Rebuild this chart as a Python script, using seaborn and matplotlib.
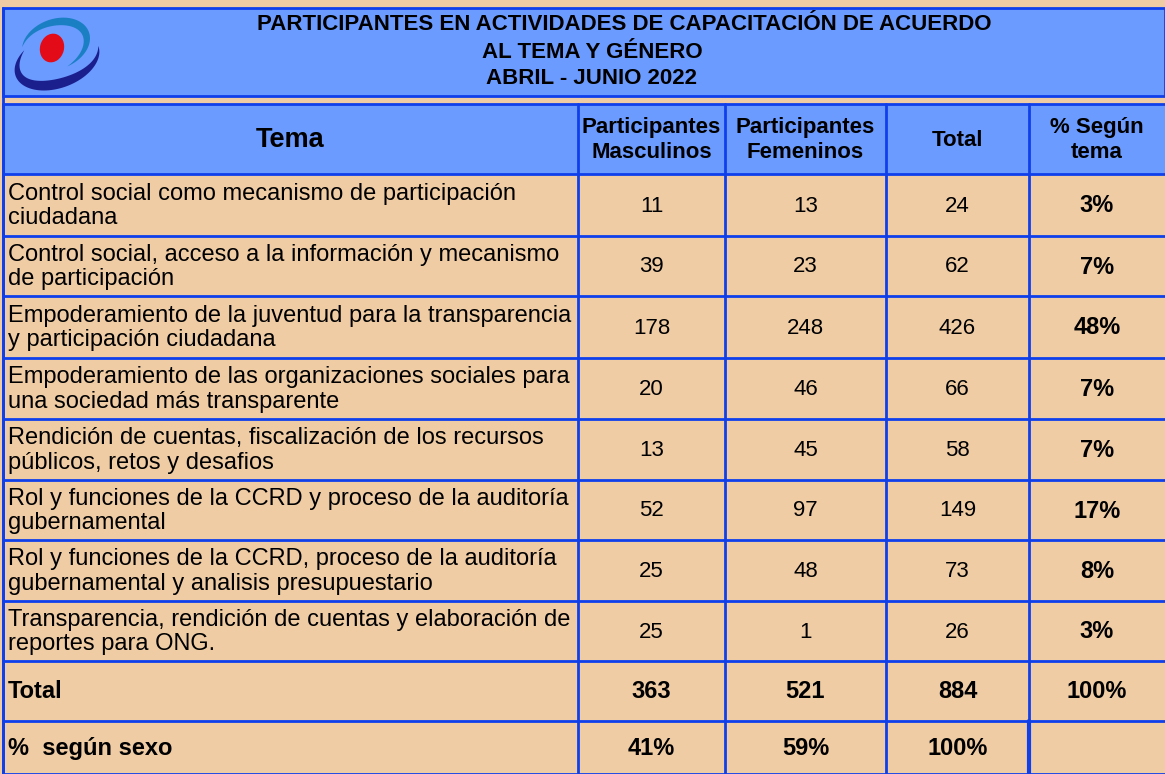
import numpy as np
import matplotlib.pyplot as plt
import seaborn as sns
from matplotlib.patches import Rectangle, Ellipse, Polygon

# ===== data
title_lines = [
    "PARTICIPANTES EN ACTIVIDADES DE CAPACITACIÓN DE ACUERDO",
    "AL TEMA Y GÉNERO",
    "ABRIL - JUNIO 2022",
]
headers = ["Tema", "Participantes\nMasculinos", "Participantes\nFemeninos", "Total", "% Según\ntema"]
temas = [
    "Control social como mecanismo de participación\nciudadana",
    "Control social, acceso a la información y mecanismo\nde participación",
    "Empoderamiento de la juventud para la transparencia\ny participación ciudadana",
    "Empoderamiento de las organizaciones sociales para\nuna sociedad más transparente",
    "Rendición de cuentas, fiscalización de los recursos\npúblicos, retos y desafios",
    "Rol y funciones de la CCRD y proceso de la auditoría\ngubernamental",
    "Rol y funciones de la CCRD, proceso de la auditoría\ngubernamental y analisis presupuestario",
    "Transparencia, rendición de cuentas y elaboración de\nreportes para ONG.",
]
masculinos = [11, 39, 178, 20, 13, 52, 25, 25]
femeninos = [13, 23, 248, 46, 45, 97, 48, 1]
totales = [24, 62, 426, 66, 58, 149, 73, 26]
pct_tema = ["3%", "7%", "48%", "7%", "7%", "17%", "8%", "3%"]
fila_total = ["Total", "363", "521", "884", "100%"]
fila_sexo = ["%  según sexo", "41%", "59%", "100%", ""]

# ===== style
sns.set_theme(style="white")
plt.rcParams["font.family"] = ["Liberation Sans", "DejaVu Sans"]
plt.rcParams["text.color"] = "black"

tan = "#EFCCA4"
blue = "#6B9BFF"
line = "#0F3FEA"

W, H = 1165, 774
cols = [3, 578, 725, 886, 1029, 1165]
rows = [104, 174, 236, 296, 358, 419, 480, 540, 601, 661, 721, 774]

fig = plt.figure(figsize=(W / 100, H / 100), dpi=100)
fig.set_facecolor(tan)
ax = fig.add_axes([0, 0, 1, 1])
ax.set_xlim(0, W)
ax.set_ylim(H, 0)
ax.axis("off")

# title box
ax.add_patch(Rectangle((3, 8), W - 3, 88, facecolor=blue, edgecolor=line, lw=2))
title_x = [624, 592, 592]
for i, s in enumerate(title_lines):
    ax.text(title_x[i], 25 + 27 * i, s, ha="center", va="center", fontsize=16, weight="bold")


# logo
def crescent(cx, cy, a, b, tilt, t0, t1, wmax, color):
    t = np.radians(np.linspace(t0, t1, 100))
    w = wmax * np.sin(np.linspace(0, np.pi, 100)) ** 0.9
    ox, oy = a * np.cos(t), b * np.sin(t)
    ix, iy = (a - w) * np.cos(t), (b - w) * np.sin(t)
    r = np.radians(tilt)
    xs = np.concatenate([ox, ix[::-1]])
    ys = np.concatenate([oy, iy[::-1]])
    px = cx + xs * np.cos(r) - ys * np.sin(r)
    py = cy + xs * np.sin(r) + ys * np.cos(r)
    ax.add_patch(Polygon(np.column_stack([px, py]), closed=True, facecolor=color, edgecolor="none"))


crescent(56, 44, 35, 25, -20, 200, 445, 8, "#1B7FC4")
crescent(57, 61, 44, 27, -20, 232, 0, 10, "#1B1F8E")
ax.add_patch(Ellipse((52, 48), 24, 29, angle=15, facecolor="#E30B17", edgecolor="none"))

# header row
ax.add_patch(Rectangle((cols[0], rows[0]), W - cols[0], rows[1] - rows[0], facecolor=blue, edgecolor="none"))
for j, h in enumerate(headers):
    xc = (cols[j] + cols[j + 1]) / 2
    yc = (rows[0] + rows[1]) / 2
    size = 19.5 if j == 0 else 16
    ax.text(xc, yc + 1, h, ha="center", va="center", fontsize=size, weight="bold", linespacing=1.2)

# body rows
body = [[t, str(m), str(f), str(tt), p] for t, m, f, tt, p in zip(temas, masculinos, femeninos, totales, pct_tema)]
body += [fila_total, fila_sexo]
for i, r in enumerate(body):
    y0, y1 = rows[i + 1], rows[i + 2]
    yc = (y0 + y1) / 2
    last = i >= len(temas)
    for j, s in enumerate(r):
        if j == 0:
            ax.text(8, yc + 1, s, ha="left", va="center", fontsize=17,
                    weight="bold" if last else "normal", linespacing=1.15)
        else:
            xc = (cols[j] + cols[j + 1]) / 2
            bold = last or j == 4
            ax.text(xc, yc + 1, s, ha="center", va="center", fontsize=17 if bold else 16,
                    weight="bold" if bold else "normal")

# grid lines
for y in rows:
    ax.plot([cols[0], W], [y, y], color=line, lw=2)
for x in cols[:-1]:
    ax.plot([x, x], [rows[0], H], color=line, lw=2)
ax.plot([cols[4], cols[4]], [rows[-2], H], color=line, lw=3)
ax.plot([cols[0], cols[0]], [8, H], color=line, lw=2)

fig.savefig("out.png", dpi=100, facecolor=tan)
